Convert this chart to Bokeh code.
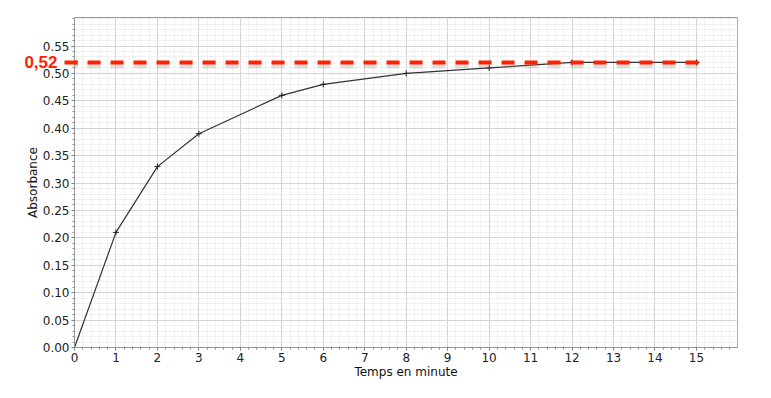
from bokeh.plotting import figure
from bokeh.models import FixedTicker, Range1d, CustomJSTickFormatter, LinearAxis
from bokeh.embed import file_html
from bokeh.resources import INLINE

# Data
temps = [0, 1, 2, 3, 5, 6, 8, 10, 12, 15]
absorbance = [0.0, 0.21, 0.33, 0.39, 0.46, 0.48, 0.50, 0.51, 0.52, 0.52]
asymptote = 0.52
asymptote_label = "0,52"
asymptote_x = [-0.24, 15.12]
x_ticks = list(range(0, 16))
y_ticks = [0.0, 0.05, 0.10, 0.15, 0.20, 0.25, 0.30, 0.35, 0.40, 0.45, 0.50, 0.55]
x_label = "Temps en minute"
y_label = "Absorbance"

p = figure(frame_width=663, frame_height=330, output_backend="svg", toolbar_location=None,
           x_range=Range1d(0, 15.99), y_range=Range1d(0, 0.602),
           min_border_left=74, min_border_top=17, min_border_right=20, min_border_bottom=36,
           background_fill_color="white", border_fill_color="white")

p.outline_line_color = "#9a9a9a"
p.outline_line_width = 1

p.xaxis.ticker = FixedTicker(ticks=x_ticks, minor_ticks=[i * 0.2 for i in range(0, 81)])
p.yaxis.ticker = FixedTicker(ticks=y_ticks, minor_ticks=[i * 0.01 for i in range(0, 61)])
p.yaxis.formatter = CustomJSTickFormatter(code="return tick.toFixed(2);")

for ax in (p.xaxis, p.yaxis):
    ax.axis_line_color = "#9a9a9a"
    ax.major_tick_line_color = "#777777"
    ax.major_tick_out = 3
    ax.major_tick_in = 0
    ax.minor_tick_line_color = "#888888"
    ax.minor_tick_out = 2
    ax.minor_tick_in = 0
    ax.major_label_text_font = "DejaVu Sans"
    ax.major_label_text_font_size = "12px"
    ax.major_label_text_color = "#222222"
    ax.axis_label_text_font = "DejaVu Sans"
    ax.axis_label_text_font_size = "12px"
    ax.axis_label_text_font_style = "normal"
    ax.axis_label_text_color = "#111111"
    ax.major_label_standoff = 2
    ax.axis_label_standoff = 0

p.xaxis.axis_label = x_label
p.yaxis.axis_label = y_label

for g in (p.xgrid, p.ygrid):
    g.grid_line_color = "#d4d4d4"
    g.grid_line_width = 1
    g.minor_grid_line_color = "#e2e2e2"
    g.minor_grid_line_dash = "1 1"
    g.minor_grid_line_width = 1

# Curve
p.line(temps, absorbance, line_color="#333333", line_width=1.2)
p.scatter(temps, absorbance, marker="cross", size=6, line_color="#222222", line_width=1)

# Asymptote: shadow + red dashed line
p.line(asymptote_x, [asymptote - 0.0055] * 2, line_color="#888888", line_alpha=0.25,
       line_width=6, line_dash="13 10")
p.line(asymptote_x, [asymptote] * 2, line_color="#ff2200", line_width=4, line_dash="13 10")

# Extra left axis carrying the red "0,52" label (and the dash part crossing the axis)
lab_axis = LinearAxis(ticker=FixedTicker(ticks=[asymptote], minor_ticks=[]),
                      major_label_overrides={asymptote: asymptote_label})
lab_axis.axis_line_color = None
lab_axis.minor_tick_line_color = None
lab_axis.major_tick_line_color = "#ff2200"
lab_axis.major_tick_line_width = 4
lab_axis.major_tick_line_dash = "0 42 13 100"
lab_axis.major_tick_out = 0
lab_axis.major_tick_in = 56
lab_axis.major_label_text_color = "#ff2200"
lab_axis.major_label_text_font = "Liberation Sans"
lab_axis.major_label_text_font_style = "bold"
lab_axis.major_label_text_font_size = "17px"
lab_axis.major_label_standoff = -35
p.add_layout(lab_axis, "left")

open("out.html", "w").write(file_html(p, INLINE))
